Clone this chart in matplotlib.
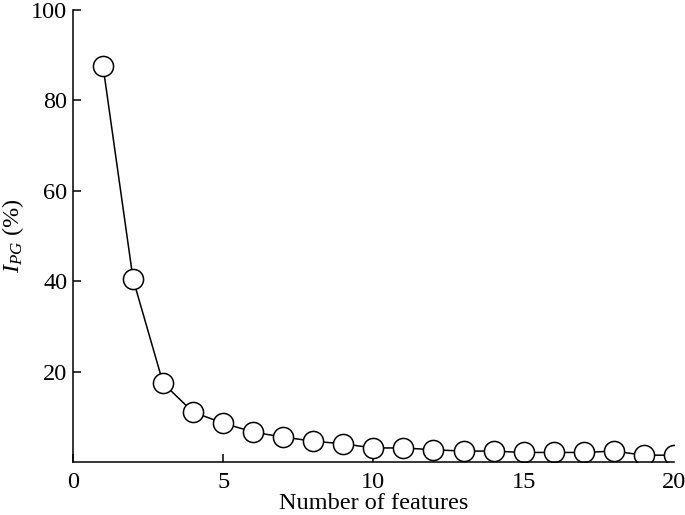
import matplotlib
matplotlib.use('Agg')
from matplotlib import pyplot as plt

plt.rcParams['font.family'] = ['Liberation Serif', 'DejaVu Serif']
plt.rcParams['mathtext.fontset'] = 'custom'
plt.rcParams['mathtext.rm'] = 'Liberation Serif'
plt.rcParams['mathtext.it'] = 'Liberation Serif:italic'

n_features = list(range(1, 21))
ipg = [87.5, 40.4, 17.4, 11.0, 8.6, 6.6, 5.5, 4.6, 4.0, 3.1,
       3.1, 2.7, 2.4, 2.4, 2.1, 2.1, 2.1, 2.4, 1.5, 1.5]

fig = plt.figure(figsize=(6.85, 5.15), dpi=100)
ax = fig.add_axes([0.1066, 0.103, 0.877, 0.878])

ax.plot(n_features, ipg, color='black', lw=1.1, marker='o', markersize=14.5,
        markerfacecolor='white', markeredgecolor='black', markeredgewidth=1.1)

ax.set_xlim(0, 20)
ax.set_ylim(0, 100)
ax.set_xticks([0, 5, 10, 15, 20])
ax.set_yticks([20, 40, 60, 80, 100])
for s in ['top', 'right']:
    ax.spines[s].set_visible(False)
for s in ['left', 'bottom']:
    ax.spines[s].set_linewidth(1.1)
ax.tick_params(direction='in', length=6, width=1.1, labelsize=17.5)
ax.tick_params(axis='x', pad=7)
ax.tick_params(axis='y', pad=4)
ax.set_xlabel('Number of features', fontsize=17.5, labelpad=0)
ax.set_ylabel('$I_{PG}$ (%)', fontsize=17.5, labelpad=4)

fig.savefig('out.png', dpi=100)
